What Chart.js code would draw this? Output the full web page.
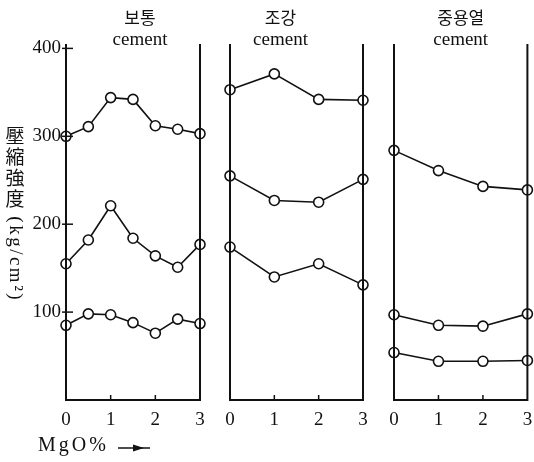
<!DOCTYPE html>
<html>
<head>
<meta charset="utf-8">
<script src="https://cdn.jsdelivr.net/npm/chart.js@4/dist/chart.umd.min.js"></script>
<style>
body { margin: 0; background: #fff; }
#wrap { position: relative; width: 534px; height: 462px; }
#wrap canvas { position: absolute; left: 0; top: 0; }
</style>
</head>
<body>
<div id="wrap">
  <canvas id="panel1" width="534" height="462"></canvas>
  <canvas id="panel2" width="534" height="462"></canvas>
  <canvas id="panel3" width="534" height="462"></canvas>
</div>
<script>
// MgO % on the x axis, compressive strength (kg/cm2) on the y axis
const panelNames = ['보통', '조강', '중용열'];
const mgoFine = [0, 0.5, 1, 1.5, 2, 2.5, 3];
const mgoCoarse = [0, 1, 2, 3];

const botongHigh = [300, 311, 344, 342, 312, 308, 303];
const botongMid = [155, 182, 221, 184, 164, 151, 177];
const botongLow = [85, 98, 97, 88, 76, 92, 87];

const jogangHigh = [353, 371, 342, 341];
const jogangMid = [255, 227, 225, 251];
const jogangLow = [174, 140, 155, 131];

const jungHigh = [284, 261, 243, 239];
const jungMid = [97, 85, 84, 98];
const jungLow = [54, 44, 44, 45];

const xTicks = [0, 1, 2, 3];
const yTicks = [100, 200, 300, 400];

const serif = '"Liberation Serif", "DejaVu Serif", serif';
const hangul = '"Noto Sans CJK KR", sans-serif';

function toPoints(xs, ys) {
    return ys.map((y, i) => ({ x: xs[i], y: y }));
}

function lineSet(xs, ys) {
    return {
        data: toPoints(xs, ys),
        borderColor: '#111',
        borderWidth: 1.6,
        pointRadius: 5,
        pointBackgroundColor: '#fff',
        pointBorderColor: '#111',
        pointBorderWidth: 1.6,
        tension: 0,
        clip: false
    };
}

function decoPlugin(name, titleDx, first) {
    return {
        id: 'deco',
        afterDraw(chart) {
            const ctx = chart.ctx;
            const a = chart.chartArea;
            const xs = chart.scales.x;
            const ys = chart.scales.y;
            ctx.save();
            ctx.strokeStyle = '#111';
            ctx.fillStyle = '#111';

            // panel frame: left, right and bottom
            ctx.lineWidth = 2;
            ctx.beginPath();
            ctx.moveTo(a.left, a.top);
            ctx.lineTo(a.left, a.bottom);
            ctx.lineTo(a.right, a.bottom);
            ctx.lineTo(a.right, a.top);
            ctx.stroke();

            // small inner ticks on the bottom axis
            ctx.lineWidth = 1.5;
            [1, 2].forEach(v => {
                const px = xs.getPixelForValue(v);
                ctx.beginPath();
                ctx.moveTo(px, a.bottom);
                ctx.lineTo(px, a.bottom - 5);
                ctx.stroke();
            });

            // panel title
            const cx = (a.left + a.right) / 2 + titleDx;
            ctx.textAlign = 'center';
            ctx.textBaseline = 'middle';
            ctx.font = '17px ' + hangul;
            ctx.fillText(name, cx, 18);
            ctx.font = '19px ' + serif;
            ctx.fillText('cement', cx, 40);

            if (first) {
                yTicks.forEach(v => {
                    const py = ys.getPixelForValue(v);
                    ctx.beginPath();
                    ctx.moveTo(a.left - 4, py);
                    ctx.lineTo(a.left + 7, py);
                    ctx.stroke();
                });

                // vertical axis title
                ctx.font = '19px ' + hangul;
                ['壓', '縮', '強', '度'].forEach((ch, i) => {
                    ctx.fillText(ch, 15, 136 + i * 21);
                });
                ctx.save();
                ctx.translate(15, 258);
                ctx.rotate(Math.PI / 2);
                ctx.font = '19px ' + serif;
                const unit = ['(', 'k', 'g', '/', 'c', 'm', '²', ')'];
                const gap = 2.5;
                const widths = unit.map(c => ctx.measureText(c).width);
                const total = widths.reduce((s, w) => s + w, 0) + gap * (unit.length - 1);
                let pos = -total / 2;
                ctx.textAlign = 'left';
                unit.forEach((c, i) => {
                    ctx.fillText(c, pos, 0);
                    pos += widths[i] + gap;
                });
                ctx.restore();

                // x axis caption
                ctx.textAlign = 'left';
                ctx.font = '20px ' + serif;
                const cap = ['M', 'g', 'O', '%'];
                let cxp = 38;
                cap.forEach(c => {
                    ctx.fillText(c, cxp, 446);
                    cxp += ctx.measureText(c).width + 3;
                });
                ctx.lineWidth = 1.5;
                ctx.beginPath();
                ctx.moveTo(118, 448);
                ctx.lineTo(150, 448);
                ctx.stroke();
                ctx.beginPath();
                ctx.moveTo(144, 448);
                ctx.lineTo(133, 444.5);
                ctx.lineTo(133, 451.5);
                ctx.closePath();
                ctx.fill();
            }
            ctx.restore();
        }
    };
}

function makePanel(id, name, xs, series, padLeft, padRight, titleDx, first) {
    new Chart(document.getElementById(id), {
        type: 'line',
        data: { datasets: series.map(s => lineSet(xs, s)) },
        options: {
            responsive: false,
            animation: false,
            events: [],
            layout: { padding: { left: padLeft, right: padRight, top: 44, bottom: 0 } },
            plugins: { legend: { display: false }, tooltip: { enabled: false } },
            scales: {
                x: {
                    type: 'linear',
                    min: 0,
                    max: 3,
                    afterBuildTicks: s => { s.ticks = xTicks.map(v => ({ value: v })); },
                    afterFit: s => { s.height = 62; s.paddingLeft = 0; s.paddingRight = 0; },
                    grid: { display: false, drawTicks: false },
                    border: { display: false },
                    ticks: { color: '#111', padding: 9, font: { family: serif, size: 19 } }
                },
                y: {
                    type: 'linear',
                    display: first,
                    min: 0,
                    max: 405,
                    afterBuildTicks: s => { s.ticks = yTicks.map(v => ({ value: v })); },
                    afterFit: s => { s.width = first ? 66 : 0; s.paddingTop = 0; s.paddingBottom = 0; },
                    grid: { display: false, drawTicks: false },
                    border: { display: false },
                    ticks: { color: '#111', padding: 5, font: { family: serif, size: 19 } }
                }
            }
        },
        plugins: [decoPlugin(name, titleDx, first)]
    });
}

makePanel('panel1', panelNames[0], mgoFine, [botongHigh, botongMid, botongLow], 0, 334, 7, true);
makePanel('panel2', panelNames[1], mgoCoarse, [jogangHigh, jogangMid, jogangLow], 230, 171, -16, false);
makePanel('panel3', panelNames[2], mgoCoarse, [jungHigh, jungMid, jungLow], 394, 5, 0, false);
</script>
</body>
</html>
